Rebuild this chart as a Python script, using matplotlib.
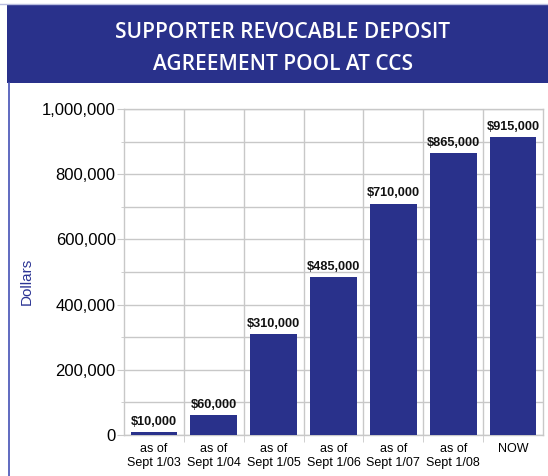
import matplotlib
matplotlib.use("Agg")
import matplotlib.pyplot as plt
from matplotlib.patches import Rectangle
from matplotlib.lines import Line2D
from matplotlib.ticker import FuncFormatter, MultipleLocator

categories = ["as of\nSept 1/03", "as of\nSept 1/04", "as of\nSept 1/05", "as of\nSept 1/06",
              "as of\nSept 1/07", "as of\nSept 1/08", "NOW"]
values = [10000, 60000, 310000, 485000, 710000, 865000, 915000]
value_labels = ["$10,000", "$60,000", "$310,000", "$485,000", "$710,000", "$865,000", "$915,000"]
title_lines = ["SUPPORTER REVOCABLE DEPOSIT", "AGREEMENT POOL AT CCS"]

navy = "#29318b"
grid = "#c8c8c8"
W, H = 548, 476

plt.rcParams['font.family'] = ['Liberation Sans', 'DejaVu Sans']
fig = plt.figure(figsize=(W/100, H/100), dpi=100)
fig.patch.set_facecolor("white")

# header band
fig.patches.append(Rectangle((7/W, 1-83/H), 1-7/W, (83-5)/H, transform=fig.transFigure,
                             facecolor=navy, edgecolor="none", zorder=0))
fig.lines.append(Line2D([0, 1], [1-3.5/H, 1-3.5/H], transform=fig.transFigure,
                        color="#b9bddf", lw=1))
fig.lines.append(Line2D([8.5/W, 8.5/W], [0, 1-83/H], transform=fig.transFigure,
                        color="#4450b5", lw=1.2))
fig.text(283/W, 1-32/H, title_lines[0], ha="center", va="center", color="white",
         fontsize=15, fontweight="semibold", family=["Open Sans", "DejaVu Sans"])
fig.text(283/W, 1-64/H, title_lines[1], ha="center", va="center", color="white",
         fontsize=15, fontweight="semibold", family=["Open Sans", "DejaVu Sans"])

ax = fig.add_axes([124/W, 1-435/H, (543-124)/W, (435-109)/H])
x = list(range(len(categories)))
ax.bar(x, values, width=0.78, color=navy, zorder=3)
for xi, v, lab in zip(x, values, value_labels):
    ax.annotate(lab, (xi, v), xytext=(0, 3), textcoords="offset points",
                ha="center", va="bottom", fontsize=9.2, fontweight="bold", color="#111111")

ax.set_xlim(-0.5, len(categories)-0.5)
ax.set_ylim(0, 1000000)
ax.yaxis.set_major_locator(MultipleLocator(200000))
ax.yaxis.set_minor_locator(MultipleLocator(100000))
ax.yaxis.set_major_formatter(FuncFormatter(lambda v, p: f"{int(v):,}"))
ax.grid(True, which="both", axis="y", color=grid, lw=1, zorder=0)
ax.set_xticks(x)
ax.set_xticklabels(categories, fontsize=9, linespacing=1.2)
ax.set_xticks([i+0.5 for i in x[:-1]], minor=True)
ax.grid(True, which="minor", axis="x", color=grid, lw=1, zorder=0)
ax.tick_params(axis="x", which="major", length=0, pad=6)
ax.tick_params(axis="x", which="minor", length=5, color=grid)
ax.tick_params(axis="y", which="major", length=5, color=grid, labelsize=12, pad=1)
ax.tick_params(axis="y", which="minor", length=2, color=grid)
for s in ax.spines.values():
    s.set_color(grid)
    s.set_linewidth(1)
ax.set_ylabel("Dollars", fontsize=11, color="#2b3494")
ax.yaxis.set_label_coords((34-124)/(543-124), 0.47)

fig.savefig("out.png", dpi=100)
